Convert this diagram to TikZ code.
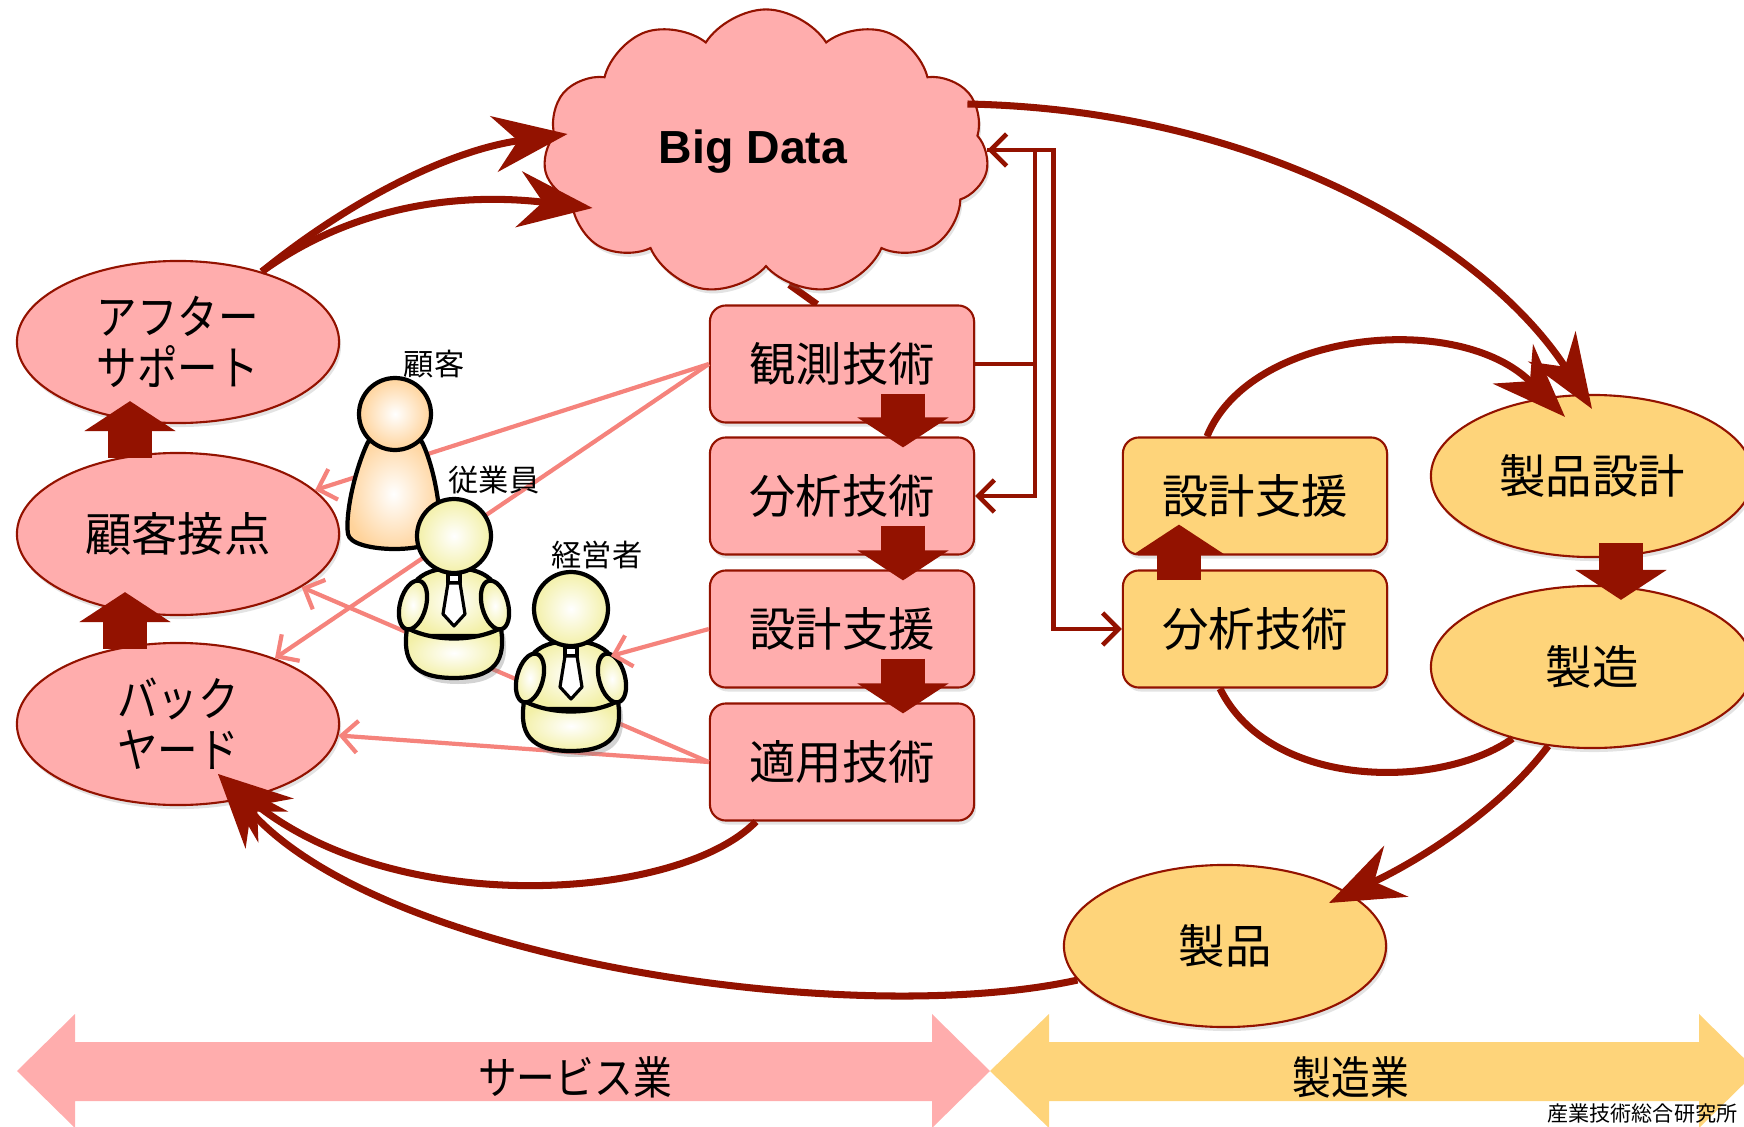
\documentclass[tikz,border=0pt]{standalone}
\usepackage{fontspec}
\setmainfont{Liberation Sans}
\newfontfamily\jpfont{Noto Sans CJK JP}
\newfontfamily\jpnarrow[FakeStretch=0.86]{Noto Sans CJK JP}
\usepackage{tikz}
\usetikzlibrary{positioning,arrows.meta,shapes.geometric,shapes.symbols,shadows,backgrounds}
\definecolor{wine}{HTML}{931200}
\definecolor{rose}{HTML}{FFADAD}
\definecolor{apricot}{HTML}{FED47A}
\definecolor{salmon}{HTML}{F5837C}
\definecolor{peach}{HTML}{FFD39B}
\definecolor{straw}{HTML}{F3F0A8}

\begin{document}
\begin{tikzpicture}[
  x=0.01cm, y=-0.01cm,
  lift/.style={drop shadow={opacity=0.22, shadow xshift=0.02cm, shadow yshift=-0.04cm}},
  bubble/.style={ellipse, draw=wine, line width=0.6pt, minimum width=3.22cm, minimum height=1.62cm,
    align=center, inner sep=0pt, font=\jpfont\fontsize{13.2}{14.5}\selectfont, lift},
  tech/.style={rectangle, rounded corners=0.16cm, draw=wine, line width=0.6pt, minimum width=2.64cm,
    minimum height=1.17cm, font=\jpfont\fontsize{13.2}{15}\selectfont, lift},
  lbl/.style={font=\jpfont\fontsize{8.6}{10}\selectfont},
  flow/.style={wine, line width=2pt, -{Stealth[length=0.74cm, width=0.56cm, inset=0.24cm]}},
  link/.style={wine, line width=1.3pt, -{Straight Barb[length=0.16cm, width=0.32cm]}},
  feed/.style={salmon, line width=1.2pt, -{Straight Barb[length=0.16cm, width=0.32cm]}},
  block/.style={wine, line width=0.44cm, -{Triangle[length=0.3cm, width=0.9cm]}},
  body/.style={draw=black, line width=1.2pt, line join=round},
  pics/guest/.style={code={
    \draw[body, inner color=white, outer color=peach] (-27,28) .. controls (-40,55) and (-50,100) .. (-47,120)
      .. controls (-44,140) and (44,140) .. (44,120) .. controls (47,100) and (40,55) .. (27,28)
      .. controls (10,20) and (-10,20) .. cycle;
    \draw[body, inner color=white, outer color=peach] (0,0) circle (36);
  }},
  pics/staff/.style={code={
    \draw[body, inner color=white, outer color=straw] (-44,100) -- (-44,62) .. controls (-44,40) and (-22,32) .. (0,32)
      .. controls (22,32) and (44,40) .. (44,62) -- (44,100) -- cycle;
    \draw[body, inner color=white, outer color=straw, drop shadow={opacity=0.35, shadow xshift=0.04cm, shadow yshift=-0.06cm}]
      (-47,92) .. controls (-20,106) and (20,106) .. (47,92) .. controls (50,115) and (50,142) .. (0,142)
      .. controls (-50,142) and (-50,115) .. cycle;
    \draw[body, inner color=white, outer color=straw, rotate around={-15:(-41,69)}] (-41,69) ellipse [x radius=13, y radius=25];
    \draw[body, inner color=white, outer color=straw, rotate around={15:(41,69)}] (41,69) ellipse [x radius=13, y radius=25];
    \draw[body, inner color=white, outer color=straw] (0,0) circle (37);
    \draw[body, line width=0.9pt, fill=white] (-6,38) rectangle (6,47);
    \draw[body, line width=0.9pt, fill=white] (-6,47) -- (6,47) -- (11,78) -- (0,90) -- (-11,78) -- cycle;
    \coordinate (-hand) at (40,47);
  }}
]
\useasboundingbox (0,0) rectangle (1744,1127);
\clip (0,0) rectangle (1744,1127);

% industry bands
\fill[rose] (17,1071) -- (75,1014) -- (75,1042) -- (932,1042) -- (932,1014) -- (990,1071)
  -- (932,1128) -- (932,1101) -- (75,1101) -- (75,1128) -- cycle;
\fill[apricot] (990,1071) -- (1049,1014) -- (1049,1042) -- (1699,1042) -- (1699,1014) -- (1757,1071)
  -- (1699,1128) -- (1699,1101) -- (1049,1101) -- (1049,1128) -- cycle;
\node[font=\jpnarrow\fontsize{12.8}{14}\selectfont] (service) at (575,1077) {サービス業};
\node[font=\jpnarrow\fontsize{12.8}{14}\selectfont] (making) at (1351,1077) {製造業};
\node[anchor=south east, inner sep=0pt, font=\jpfont\fontsize{6}{7}\selectfont] (credit) at (1738,1124) {産業技術総合研究所};

% big data
\node[cloud, cloud puffs=11, cloud puff arc=115, aspect=1.6, draw=wine, fill=rose, line width=0.6pt,
  minimum width=4.45cm, minimum height=2.85cm, font=\bfseries\fontsize{13.2}{15}\selectfont, lift] (bigdata) at (766,152) {Big Data\hspace*{0.26cm}};

% service side
\node[bubble, fill=rose, font=\jpnarrow\fontsize{13.4}{14.4}\selectfont] (after) at (178,342) {アフター\\サポート};
\node[bubble, fill=rose] (contact) at (178,534) {顧客接点};
\node[bubble, fill=rose, font=\jpnarrow\fontsize{13.4}{14.4}\selectfont] (back) at (178,724) {バック\\ヤード};

% technology column
\node[tech, fill=rose] (obs) at (842,364) {観測技術};
\node[tech, fill=rose] (ana) at (842,496) {分析技術};
\node[tech, fill=rose] (des) at (842,629) {設計支援};
\node[tech, fill=rose] (app) at (842,762) {適用技術};

% manufacturing side
\node[tech, fill=apricot] (mdes) at (1255,496) {設計支援};
\node[tech, fill=apricot] (mana) at (1255,629) {分析技術};
\node[bubble, fill=apricot] (pdesign) at (1592,476) {製品設計};
\node[bubble, fill=apricot] (manuf) at (1592,667) {製造};
\node[bubble, fill=apricot] (product) at (1225,946) {製品};

\begin{scope}[on background layer]
  \draw[wine, line width=2pt] (bigdata.-80) -- ([shift={(-25,0)}]obs.north);
\end{scope}

% people
\draw[feed] (obs.west) -- (contact);
\draw[feed] (obs.west) -- (back);
\draw[feed] (app.west) -- (contact);
\draw[feed] (app.west) -- (back);
\pic (guest) at (395,414) {guest};
\pic (staff) at (454,536) {staff};
\pic (boss) at (571,609) {staff};
\draw[feed] (des.west) -- (boss-hand);
\node[lbl] (guestlbl) at (434,364) {顧客};
\node[lbl] (stafflbl) at (494,480) {従業員};
\node[lbl] (bosslbl) at (597,555) {経営者};

% data links
\draw[link] (obs.east) -- ++(60,0) |- ([yshift=0.02cm]bigdata.east);
\draw[link] (obs.east) -- ++(60,0) |- (ana.east);
\draw[link] ([yshift=0.02cm]bigdata.east) -- ++(66,0) |- (mana.west);

% value cycle
\draw[flow] (after.40) .. controls (350,200) and (450,150) .. ([shift={(23,-18)}]bigdata.west);
\draw[flow] (after.40) .. controls (340,215) and (440,190) .. ([shift={(48,56)}]bigdata.west);
\draw[flow] ([shift={(-20,-48)}]bigdata.east) .. controls (1270,110) and (1490,250) .. ([shift={(0,15)}]pdesign.north);
\draw[flow] ([shift={(-48,0)}]mdes.north) .. controls (1250,330) and (1460,310) .. ([shift={(-27,23)}]pdesign.north);
\draw[wine, line width=2pt] ([shift={(-35,0)}]mana.south) .. controls (1270,790) and (1440,790) .. (manuf.222);
\draw[flow] (manuf.241) .. controls (1500,810) and (1420,860) .. ([shift={(104,-43)}]product.center);
\draw[flow] (product.193) .. controls (850,1030) and (380,960) .. ([shift={(40,50)}]back.center);
\draw[flow] ([shift={(-86,0)}]app.south) .. controls (680,900) and (400,920) .. ([shift={(40,50)}]back.center);

% step arrows
\draw[block] ([shift={(-48,6)}]contact.north) -- ([shift={(-48,-23)}]after.south);
\draw[block] ([shift={(-53,7)}]back.north) -- ([shift={(-53,-24)}]contact.south);
\draw[block] ([shift={(61,-30)}]obs.south) -- ([shift={(61,11)}]ana.north);
\draw[block] ([shift={(61,-30)}]ana.south) -- ([shift={(61,11)}]des.north);
\draw[block] ([shift={(61,-30)}]des.south) -- ([shift={(61,11)}]app.north);
\draw[block] ([shift={(-76,11)}]mana.north) -- ([shift={(-76,-31)}]mdes.south);
\draw[block] ([shift={(29,-15)}]pdesign.south) -- ([shift={(29,15)}]manuf.north);
\end{tikzpicture}
\end{document}
